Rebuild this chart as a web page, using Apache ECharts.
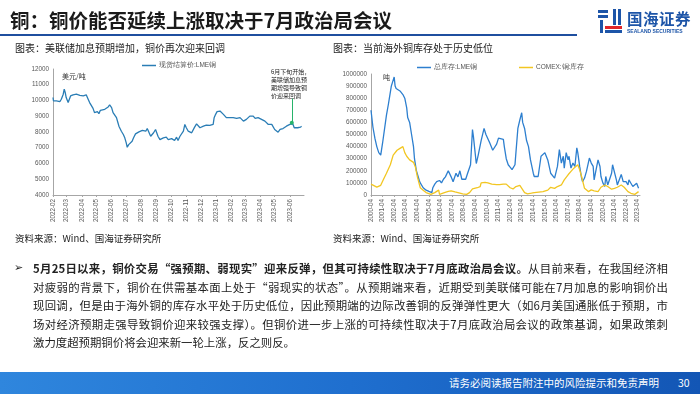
<!DOCTYPE html>
<html><head><meta charset="utf-8">
<script src="https://cdn.jsdelivr.net/npm/echarts@6/dist/echarts.min.js"></script>
<style>
html,body{margin:0;padding:0;background:#fff;}
body{width:700px;height:394px;position:relative;overflow:hidden;font-family:"Noto Sans CJK SC","Noto Sans",sans-serif;color:#222;}
#c{position:absolute;left:0;top:0;width:700px;height:394px;}
.abs{position:absolute;white-space:nowrap;}
.title{left:10px;top:7px;font-size:19.5px;font-weight:700;line-height:26px;color:#1a1a1a;}
.rule{left:0;top:34px;width:577px;height:2px;background:#1f4f9f;}
.sub{top:41px;font-size:10px;line-height:13px;color:#222;}
.src{top:232px;font-size:9.5px;line-height:12px;color:#222;}
.para{left:33px;top:259px;width:635px;font-size:11.4px;color:#222;}
.para div{height:18.6px;line-height:18.6px;white-space:nowrap;text-align:justify;text-align-last:justify;}
.para div.last{text-align-last:left;}
.bullet{left:14px;top:259px;font-size:11px;line-height:18.6px;font-family:"DejaVu Sans";}
.footer{left:0;top:372px;width:700px;height:22px;background:linear-gradient(to right,#2f86dd 0%,#1f6fcf 50%,#1356b5 100%);}
.ftext{top:376px;font-size:10.5px;line-height:14px;color:#fff;}
.logo-t{left:627px;top:8px;font-size:15.5px;font-weight:700;color:#1d55a8;line-height:20px;letter-spacing:0.5px;}
.logo-s{left:627px;top:28px;font-size:5px;font-weight:700;color:#1d55a8;line-height:6px;font-family:"Liberation Sans";}
.lg{position:absolute;}
</style></head>
<body>
<div id="c"></div>
<div class="abs title">铜：铜价能否延续上涨取决于7月政治局会议</div>
<div class="abs rule"></div>
<div class="lg" style="left:598px;top:10px;width:10px;height:3px;background:#1d55a8"></div>
<div class="lg" style="left:598px;top:15px;width:10px;height:3px;background:#1d55a8"></div>
<div class="lg" style="left:600px;top:20px;width:3px;height:13px;background:#1d55a8"></div>
<div class="lg" style="left:613px;top:9px;width:3px;height:16px;background:#1d55a8"></div>
<div class="lg" style="left:618px;top:9px;width:3px;height:16px;background:#1d55a8"></div>
<div class="lg" style="left:605px;top:26px;width:17px;height:3px;background:#e0262a"></div>
<div class="lg" style="left:605px;top:30px;width:17px;height:3px;background:#1d55a8"></div>
<div class="abs logo-t">国海证券</div>
<div class="abs logo-s">SEALAND SECURITIES</div>
<div class="abs sub" style="left:15px">图表：美联储加息预期增加，铜价再次迎来回调</div>
<div class="abs sub" style="left:333px">图表：当前海外铜库存处于历史低位</div>
<div class="abs src" style="left:15px">资料来源：Wind、国海证券研究所</div>
<div class="abs src" style="left:333px">资料来源：Wind、国海证券研究所</div>
<div class="abs bullet">➢</div>
<div class="abs para">
<div><b>5月25日以来，铜价交易“强预期、弱现实”迎来反弹，但其可持续性取决于7月底政治局会议。</b>从目前来看，在我国经济相</div>
<div>对疲弱的背景下，铜价在供需基本面上处于“弱现实的状态”。从预期端来看，近期受到美联储可能在7月加息的影响铜价出</div>
<div>现回调，但是由于海外铜的库存水平处于历史低位，因此预期端的边际改善铜的反弹弹性更大（如6月美国通胀低于预期，市</div>
<div>场对经济预期走强导致铜价迎来较强支撑）。但铜价进一步上涨的可持续性取决于7月底政治局会议的政策基调，如果政策刺</div>
<div class="last">激力度超预期铜价将会迎来新一轮上涨，反之则反。</div>
</div>
<div class="abs footer"></div>
<div class="abs ftext" style="left:449px">请务必阅读报告附注中的风险提示和免责声明</div>
<div class="abs ftext" style="left:678px">30</div>
<script>
// ---------- Chart 1: LME copper settlement price (USD/t) ----------
const priceTickLabels = ['2022-02','2022-03','2022-04','2022-05','2022-06','2022-07','2022-08','2022-09','2022-10','2022-11','2022-12','2023-01','2023-02','2023-03','2023-04','2023-05','2023-06'];
const priceDates = [
 '2022-02-01','2022-02-02','2022-02-08','2022-02-15','2022-02-18','2022-02-22','2022-02-24','2022-02-26','2022-02-28',
 '2022-03-04','2022-03-09','2022-03-14','2022-03-21','2022-03-28',
 '2022-04-04','2022-04-10','2022-04-14','2022-04-17','2022-04-21','2022-04-24','2022-04-27',
 '2022-05-01','2022-05-03','2022-05-06','2022-05-09','2022-05-13','2022-05-18','2022-05-21','2022-05-25','2022-05-28',
 '2022-06-01','2022-06-04','2022-06-07','2022-06-11','2022-06-14','2022-06-16','2022-06-19','2022-06-21','2022-06-25','2022-06-28',
 '2022-07-01','2022-07-03','2022-07-06','2022-07-10','2022-07-13','2022-07-16','2022-07-20','2022-07-23','2022-07-27','2022-07-31',
 '2022-08-03','2022-08-07','2022-08-10','2022-08-13','2022-08-16','2022-08-20','2022-08-23','2022-08-26','2022-08-30',
 '2022-09-01','2022-09-04','2022-09-08','2022-09-11','2022-09-15','2022-09-18','2022-09-21','2022-09-25','2022-09-28',
 '2022-10-02','2022-10-05','2022-10-08','2022-10-12','2022-10-15','2022-10-19','2022-10-22','2022-10-26','2022-10-29',
 '2022-11-01','2022-11-05','2022-11-08','2022-11-12','2022-11-15','2022-11-18','2022-11-22','2022-11-25','2022-11-29',
 '2022-12-02','2022-12-06','2022-12-09','2022-12-12','2022-12-16','2022-12-19','2022-12-23','2022-12-26','2022-12-28','2022-12-31',
 '2023-01-03','2023-01-05','2023-01-09','2023-01-12','2023-01-16','2023-01-19','2023-01-22','2023-01-26','2023-01-29',
 '2023-02-02','2023-02-05','2023-02-08','2023-02-12','2023-02-15','2023-02-19','2023-02-22','2023-02-26',
 '2023-03-01','2023-03-04','2023-03-08','2023-03-11','2023-03-15','2023-03-18','2023-03-22','2023-03-25','2023-03-28',
 '2023-04-01','2023-04-04','2023-04-08','2023-04-11','2023-04-14','2023-04-18','2023-04-21','2023-04-25','2023-04-28',
 '2023-05-01','2023-05-05','2023-05-08','2023-05-12','2023-05-15','2023-05-18','2023-05-22','2023-05-25','2023-05-29',
 '2023-06-01','2023-06-05','2023-06-07','2023-06-10','2023-06-13','2023-06-17','2023-06-20','2023-06-23','2023-06-25'
];
const priceValues = [
 10190,9970,9970,9930,10080,10400,10720,10510,10190,
 9870,10290,10360,10400,10330,
 10300,10360,10080,9870,9760,9500,9230,
 9120,9290,9160,9380,9440,9440,9500,9590,9720,
 9550,9230,9120,8910,8590,8370,8270,8050,7840,7630,
 7310,7030,7200,7310,7410,7630,7880,7840,8010,7950,
 8100,8010,8050,8220,8160,7730,7630,7950,8160,
 8050,7730,7520,7410,7630,7580,7670,7520,7630,
 7580,7520,7460,7670,7460,7730,7840,8050,8480,
 8270,8050,7950,7950,8050,8310,8520,8440,8270,
 8310,8370,8330,8440,8370,8420,8370,8480,8910,9120,
 9290,9380,9330,9290,9120,9010,8910,8950,8910,
 9010,8910,9010,8860,8800,8910,8800,8690,
 8590,8800,8910,9010,8910,9010,8860,8800,8910,
 9010,8800,8910,8690,8590,8480,8520,8480,8370,
 8160,8050,7990,8160,8100,8220,8310,8370,8440,
 8480,8590,8520,8270,8160,8270,8220,8310,8370
];
const priceSeriesName = '现货结算价:LME铜';
const priceRange = ['2022-02-01', '2023-06-30'];
const noteDate = '2023-06-05';
const noteFrom = 10120, noteTo = 8590;

// ---------- Chart 2: copper inventories (t) ----------
const stockTickLabels = ['2000-04','2001-04','2002-04','2003-04','2004-04','2005-04','2006-04','2007-04','2008-04','2009-04','2010-04','2011-04','2012-04','2013-04','2014-04','2015-04','2016-04','2017-04','2018-04','2019-04','2020-04','2021-04','2022-04','2023-04'];
const stockRange = ['2000-04-01', '2023-06-15'];
const lmeDates = ['2000-04','2000-06','2000-08','2000-10','2000-12','2001-02','2001-04','2001-05','2001-06','2001-08','2001-10','2001-11','2002-01','2002-04','2002-05','2002-06','2002-08','2002-10','2002-12','2003-01','2003-03','2003-05','2003-06','2003-08','2003-10','2003-12','2004-01','2004-03','2004-06','2004-07','2004-10','2005-01','2005-04','2005-07','2005-08','2005-10','2005-12','2006-03','2006-05','2006-07','2006-09','2006-12','2007-02','2007-03','2007-05','2007-08','2007-10','2007-12','2008-02','2008-03','2008-06','2008-08','2008-11','2009-01','2009-02','2009-05','2009-07','2009-10','2010-01','2010-03','2010-07','2010-10','2010-11','2011-02','2011-04','2011-06','2011-09','2011-10','2011-12','2012-02','2012-04','2012-06','2012-09','2012-10','2012-12','2013-02','2013-04','2013-05','2013-07','2013-09','2013-11','2014-01','2014-04','2014-05','2014-09','2014-12','2015-04','2015-05','2015-07','2015-10','2016-02','2016-04','2016-05','2016-07','2016-09','2016-11','2016-12','2017-02','2017-04','2017-05','2017-07','2017-09','2017-11','2018-01','2018-02','2018-04','2018-06','2018-07','2018-09','2018-11','2019-02','2019-04','2019-06','2019-07','2019-09','2019-11','2020-01','2020-02','2020-04','2020-06','2020-07','2020-09','2020-11','2021-01','2021-02','2021-04','2021-06','2021-07','2021-09','2021-11','2022-01','2022-02','2022-04','2022-06','2022-07','2022-09','2022-11','2023-01','2023-03','2023-05'];
const lmeValues = [700000,560000,470000,400000,350000,330000,430000,440000,420000,660000,750000,800000,900000,975000,900000,880000,870000,860000,850000,830000,800000,720000,640000,600000,500000,400000,300000,200000,120000,100000,60000,40000,30000,20000,60000,90000,110000,120000,100000,130000,150000,200000,210000,150000,110000,180000,150000,200000,130000,120000,130000,180000,250000,540000,480000,260000,330000,450000,550000,500000,430000,370000,360000,420000,470000,470000,460000,400000,300000,250000,230000,210000,250000,350000,550000,620000,680000,600000,550000,450000,400000,292000,180000,153000,153000,320000,350000,360000,290000,180000,140000,140000,236000,375000,264000,320000,222000,350000,290000,320000,222000,264000,236000,390000,350000,236000,140000,110000,140000,195000,305000,264000,236000,125000,210000,290000,236000,153000,100000,70000,153000,83000,70000,180000,250000,236000,125000,83000,70000,170000,110000,125000,110000,83000,125000,97000,70000,56000,97000,56000];
const comexDates = ['2000-04','2000-06','2000-10','2000-12','2001-02','2001-05','2001-08','2001-12','2002-03','2002-07','2002-10','2003-01','2003-03','2003-05','2003-08','2003-12','2004-02','2004-04','2004-07','2004-10','2005-01','2005-03','2005-06','2005-08','2005-10','2005-12','2006-02','2006-03','2006-05','2006-08','2006-12','2007-03','2007-07','2007-10','2008-03','2008-07','2008-10','2009-01','2009-03','2009-06','2009-09','2009-10','2010-02','2010-05','2010-09','2010-10','2011-02','2011-05','2011-09','2011-12','2012-04','2012-07','2012-10','2013-02','2013-04','2013-07','2013-10','2014-02','2014-05','2015-02','2015-07','2015-10','2016-02','2016-05','2016-09','2016-12','2017-04','2017-07','2017-10','2018-02','2018-04','2018-06','2018-09','2019-01','2019-04','2019-07','2019-11','2020-02','2020-06','2020-09','2021-01','2021-04','2021-07','2021-11','2022-02','2022-06','2022-09','2023-01','2023-05'];
const comexValues = [90000,80000,65000,60000,80000,130000,180000,250000,330000,370000,385000,400000,350000,320000,290000,270000,230000,150000,60000,40000,20000,10000,5000,5000,20000,10000,40000,5000,2000,20000,30000,35000,25000,20000,10000,5000,20000,50000,60000,60000,70000,100000,105000,100000,90000,75000,85000,85000,90000,90000,60000,50000,70000,80000,75000,20000,10000,15000,20000,28000,40000,64000,55000,70000,83000,125000,167000,195000,222000,250000,208000,153000,55000,28000,42000,35000,28000,64000,83000,70000,48000,55000,64000,83000,64000,28000,14000,5000,28000];
const lmeName = '总库存:LME铜';
const comexName = 'COMEX:铜:库存';

// date string -> timestamp (local), so the library's value scale places points in time
function ts(s){ const p = s.split('-'); return +new Date(+p[0], +p[1]-1, p[2] ? +p[2] : 1); }
function zip(d, v){ return d.map((x,i)=>[ts(x), v[i]]); }
function fmtMonth(v){ const d = new Date(v); return d.getFullYear()+'-'+String(d.getMonth()+1).padStart(2,'0'); }
function plain(v){ return String(v); }

const axisColor = '#a6a6a6';
const labelStyle = {fontSize:6.3, color:'#595959', fontFamily:'Liberation Sans'};
function dateAxis(grid, ticks, range){
  const tv = ticks.map(ts);
  return {type:'value', gridIndex:grid, min:ts(range[0]), max:ts(range[1]), scale:true,
    axisLine:{lineStyle:{color:axisColor,width:1}},
    axisTick:{show:true, length:2, customValues:tv, lineStyle:{color:axisColor}},
    axisLabel:Object.assign({customValues:tv, rotate:90, margin:4, formatter:fmtMonth, hideOverlap:false}, labelStyle),
    splitLine:{show:false}};
}
const chart = echarts.init(document.getElementById('c'), null, {renderer:'canvas', width:700, height:394});
const legendBase = {orient:'horizontal', padding:0, itemGap:0, icon:'rect', itemWidth:14, itemHeight:1.5, textStyle:{fontSize:6.5, color:'#555', padding:[0,0,0,-2]}, selectedMode:false};
chart.setOption({
  animation:false,
  grid:[{left:53, top:69, width:251, height:126}, {left:371, top:74, width:269, height:121}],
  xAxis:[ dateAxis(0, priceTickLabels, priceRange), dateAxis(1, stockTickLabels, stockRange) ],
  yAxis:[
    {type:'value', gridIndex:0, min:4000, max:12000, interval:1000, axisLine:{show:true, lineStyle:{color:axisColor}}, axisTick:{show:false}, axisLabel:Object.assign({margin:4, formatter:plain}, labelStyle), splitLine:{show:false}},
    {type:'value', gridIndex:1, min:0, max:1000000, interval:100000, axisLine:{show:true, lineStyle:{color:axisColor}}, axisTick:{show:false}, axisLabel:Object.assign({margin:4, formatter:plain}, labelStyle), splitLine:{show:false}}
  ],
  legend:[
    Object.assign({data:[priceSeriesName], left:142, top:62}, legendBase),
    Object.assign({data:[lmeName], left:417, top:64}, legendBase),
    Object.assign({data:[comexName], left:519, top:64}, legendBase)
  ],
  series:[
    {name:priceSeriesName, type:'line', xAxisIndex:0, yAxisIndex:0, data:zip(priceDates, priceValues), symbol:'none', lineStyle:{color:'#2a7db5', width:1.3}, itemStyle:{color:'#2a7db5'},
     markLine:{silent:true, symbol:['none','circle'], symbolSize:4, label:{show:false}, lineStyle:{color:'#27b36a', width:1, type:'solid'},
       data:[[{coord:[ts(noteDate), noteFrom]}, {coord:[ts(noteDate), noteTo]}]]}},
    {name:lmeName, type:'line', xAxisIndex:1, yAxisIndex:1, data:zip(lmeDates, lmeValues), symbol:'none', lineStyle:{color:'#2d7fcf', width:1.3}, itemStyle:{color:'#2d7fcf'}},
    {name:comexName, type:'line', xAxisIndex:1, yAxisIndex:1, data:zip(comexDates, comexValues), symbol:'none', lineStyle:{color:'#f2c622', width:1.3}, itemStyle:{color:'#f2c622'}}
  ],
  graphic:[
    {type:'text', left:62, top:73, style:{text:'美元/吨', fontSize:7, fill:'#333', fontFamily:'Noto Sans CJK SC'}},
    {type:'text', left:383, top:74, style:{text:'吨', fontSize:7, fill:'#333', fontFamily:'Noto Sans CJK SC'}},
    {type:'text', left:271, top:68, style:{text:'6月下旬开始，\n美联储加息预\n期增强导致铜\n价迎来回调', fontSize:6, lineHeight:7.8, fill:'#222', fontFamily:'Noto Sans CJK SC'}}
  ]
});
</script>
</body></html>
